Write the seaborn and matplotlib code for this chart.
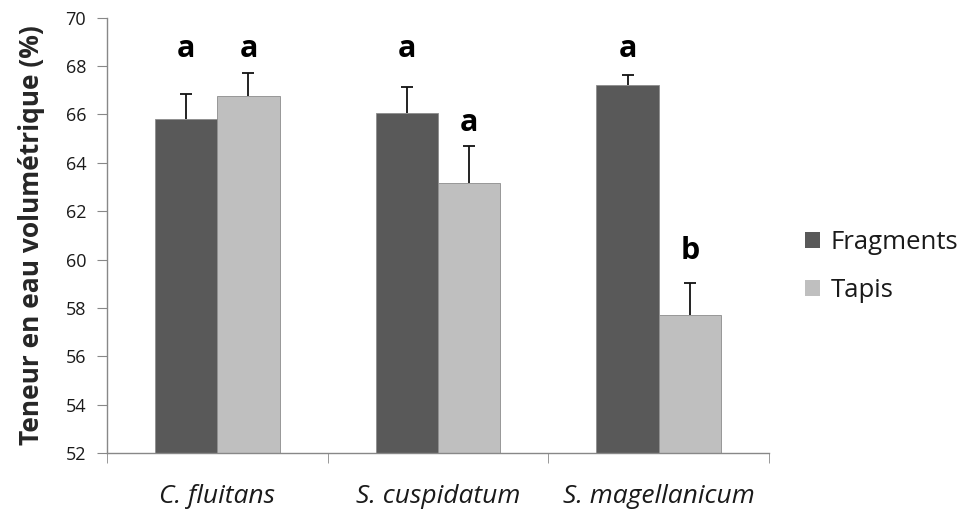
import numpy as np
import pandas as pd
import seaborn as sns
import matplotlib.pyplot as plt
from matplotlib.ticker import FixedLocator

species = ["C. fluitans", "S. cuspidatum", "S. magellanicum"]
treatments = ["Fragments", "Tapis"]
fragments_mean = [65.8, 66.05, 67.2]
tapis_mean = [66.75, 63.15, 57.7]
fragments_err = [1.05, 1.08, 0.43]
tapis_err = [0.97, 1.53, 1.34]
fragments_letters = ["a", "a", "a"]
tapis_letters = ["a", "a", "b"]
fragments_letter_y = [68.7, 68.7, 68.7]
tapis_letter_y = [68.7, 65.65, 60.35]

df = pd.DataFrame({
    "species": species * 2,
    "treatment": [treatments[0]] * 3 + [treatments[1]] * 3,
    "value": fragments_mean + tapis_mean,
})

sns.set_style("white")
plt.rcParams["font.family"] = ["Open Sans", "DejaVu Sans"]
plt.rcParams["text.color"] = "#1a1a1a"

fig = plt.figure(figsize=(9.57, 5.15), dpi=100)
ax = fig.add_axes([0.1118, 0.1204, 0.6918, 0.8451])

palette = {"Fragments": "#595959", "Tapis": "#bfbfbf"}
sns.barplot(data=df, x="species", y="value", hue="treatment", hue_order=treatments,
            palette=palette, width=0.564, gap=0, saturation=1, errorbar=None,
            edgecolor="#8c8c8c", linewidth=0.6, ax=ax)

# upper-only error bars + significance letters, placed on the seaborn bars
errs = [fragments_err, tapis_err]
letters = [fragments_letters, tapis_letters]
letter_y = [fragments_letter_y, tapis_letter_y]
for cont, err, lab, ly in zip(ax.containers, errs, letters, letter_y):
    xs = np.array([b.get_x() + b.get_width() / 2 for b in cont])
    hs = np.array([b.get_height() for b in cont])
    tops = hs + np.array(err)
    ax.vlines(xs, hs, tops, color="#111111", linewidth=1.3, zorder=3)
    ax.plot(xs, tops, linestyle="none", marker="_", markersize=8, markeredgewidth=1.3,
            color="#111111", zorder=3)
    for x, y, t in zip(xs, ly, lab):
        ax.text(x, y, t, ha="center", va="center", fontsize=22, fontweight="bold",
                color="black")

ax.set_ylim(52, 70)
ax.set_yticks(np.arange(52, 71, 2))
ax.set_xlim(-0.5, 2.5)
ax.set_xlabel("")
ax.set_ylabel("Teneur en eau volumétrique (%)", fontsize=19, fontweight="bold", labelpad=15)
ax.tick_params(axis="y", direction="out", length=7, color="#888888", labelsize=13,
               left=True, pad=8, labelcolor="#1a1a1a")
ax.tick_params(axis="x", length=0, labelsize=19, pad=22, labelcolor="#1a1a1a")
ax.xaxis.set_minor_locator(FixedLocator([-0.5, 0.5, 1.5, 2.5]))
ax.tick_params(axis="x", which="minor", direction="out", length=7, color="#888888", bottom=True)
for t in ax.get_xticklabels():
    t.set_fontstyle("italic")

for s in ["top", "right"]:
    ax.spines[s].set_visible(False)
for s in ["left", "bottom"]:
    ax.spines[s].set_color("#888888")
    ax.spines[s].set_linewidth(1)

leg = ax.legend(loc="center left", bbox_to_anchor=(1.054, 0.429), frameon=False, fontsize=18.5,
                handlelength=0.6, handleheight=0.6, handletextpad=0.4, labelspacing=0.9,
                borderpad=0, borderaxespad=0)
for h in leg.legend_handles:
    h.set_edgecolor("none")

fig.savefig("out.png", dpi=100)
